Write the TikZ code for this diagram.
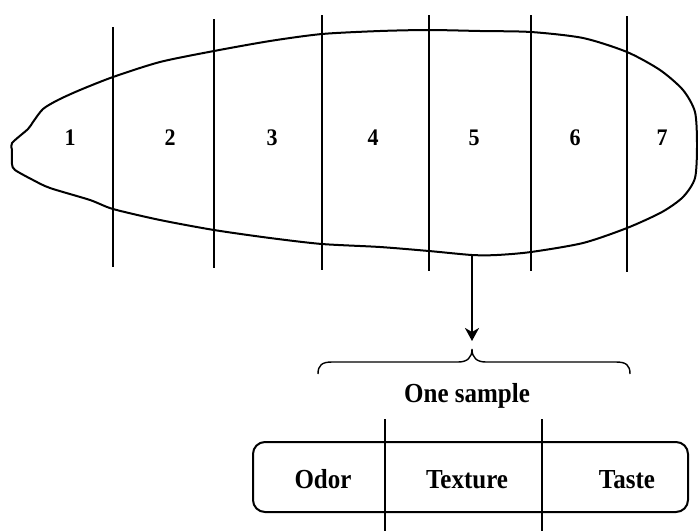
\documentclass[tikz,border=0pt]{standalone}
\usepackage{fontspec}
\setmainfont{Liberation Serif}
\usetikzlibrary{arrows.meta}
\begin{document}
\begin{tikzpicture}[x=1pt,y=-1pt,
  outline/.style={line width=2pt,line join=round},
  cutline/.style={line width=1.4pt},
  num/.style={font=\fontsize{22}{26}\selectfont\bfseries,anchor=base,inner sep=0pt,yscale=1.08},
  lbl/.style={font=\fontsize{25}{30}\selectfont\bfseries,anchor=base,inner sep=0pt,yscale=1.1},
  boxst/.style={line width=2pt,rounded corners=12pt}]
\useasboundingbox (0,0) rectangle (698,531);
% fruit outline
\draw[outline] plot[smooth cycle,tension=0.45] coordinates {
 (12,150) (12,143) (28,129) (33,122) (43,109) (58,100) (80,90) (113,77) (160,62)
 (214,51) (270,41) (322,34) (380,31) (429,30) (480,31) (531,32) (583,38) (627,52)
 (660,70) (683,90) (695,112) (697,145) (695,178) (683,197) (662,212) (627,228)
 (583,243) (531,252) (497,255) (472,255) (429,251) (380,247) (322,244) (270,238)
 (214,230) (160,220) (113,209) (90,200) (50,188) (33,180) (15,170) (12,164)};
% cut lines
\foreach \x/\a/\b [count=\i] in {113/27/267,214/19/268,322/15/270,429/15/271,531/15/271,627/16/272}{
  \coordinate (ct\i) at (\x,\a);
  \coordinate (cb\i) at (\x,\b);
  \draw[cutline] (ct\i) -- (cb\i);
}
% section numbers
\foreach \x/\t [count=\i] in {70/1,170/2,272/3,373/4,474/5,575/6,662/7}{
  \node[num] (n\i) at (\x,145) {\t};
}
% arrow
\coordinate (src) at (472,255);
\coordinate (tip) at (472,341);
\draw[line width=2.4pt,-{Stealth[length=13pt,width=14pt,inset=4pt]}] (src) -- (tip);
% brace
\coordinate (bl) at (318,374);
\coordinate (bm) at (472,349);
\coordinate (br) at (630,374);
\draw[line width=1.4pt] (bl) .. controls (318,365) and (322,362) .. (332,362) -- (458,362)
  .. controls (467,362) and (472,358) .. (bm)
  .. controls (472,358) and (477,362) .. (486,362) -- (616,362)
  .. controls (626,362) and (630,365) .. (br);
\node[lbl] (sample) at (467,402) {One sample};
% box
\draw[boxst] (253,442) rectangle (688,512);
\coordinate (d1t) at (385,419);
\coordinate (d1b) at (385,531);
\coordinate (d2t) at (542,419);
\coordinate (d2b) at (542,531);
\draw[cutline] (d1t) -- (d1b);
\draw[cutline] (d2t) -- (d2b);
\node[lbl] (odor) at (323,488) {Odor};
\node[lbl] (texture) at (467,488) {Texture};
\node[lbl] (taste) at (627,488) {Taste};
\end{tikzpicture}
\end{document}
